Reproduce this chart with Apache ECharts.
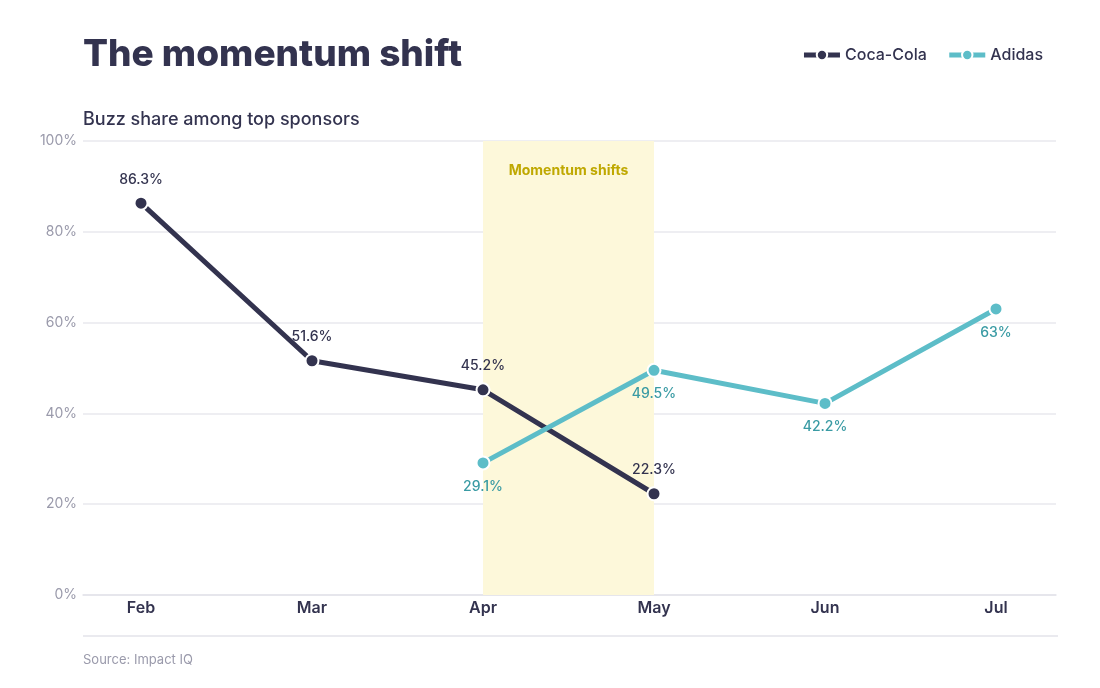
<!DOCTYPE html>
<html>
<head>
<meta charset="utf-8">
<script src="https://cdn.jsdelivr.net/npm/echarts@6/dist/echarts.min.js"></script>
<style>
  html, body { margin: 0; padding: 0; background: #fff; }
  #chart1 { width: 1100px; height: 688px; }
</style>
</head>
<body>
<div id="chart1"></div>
<script>
var months = ['Feb', 'Mar', 'Apr', 'May', 'Jun', 'Jul'];
var cocaCola = [86.3, 51.6, 45.2, 22.3, null, null];
var adidas = [null, null, 29.1, 49.5, 42.2, 63];
var yTicks = [0, 20, 40, 60, 80, 100];
var shiftRange = ['Apr', 'May'];

var navy = '#33334f';
var teal = '#5dbdc8';
var font = 'Inter, "Noto Sans", sans-serif';

var myChart = echarts.init(document.getElementById('chart1'));

var option = {
    backgroundColor: '#fff',
    textStyle: { fontFamily: font },
    title: [
        {
            text: 'The momentum shift',
            left: 78, top: 31,
            textStyle: { fontSize: 37, fontWeight: 800, color: navy, fontFamily: font }
        },
        {
            text: 'Buzz share among top sponsors',
            left: 78, top: 106,
            textStyle: { fontSize: 18, fontWeight: 500, color: navy, fontFamily: font }
        },
        {
            text: 'Source: Impact IQ',
            left: 78, top: 649,
            textStyle: { fontSize: 13, fontWeight: 400, color: '#9a9aab', fontFamily: font }
        }
    ],
    legend: {
        right: 52, top: 42,
        itemWidth: 36, itemHeight: 13, itemGap: 20,
        lineStyle: { width: 5 },
        textStyle: { fontSize: 16, color: navy, fontWeight: 500, fontFamily: font },
        data: ['Coca-Cola', 'Adidas']
    },
    grid: [
        { left: 141, right: 104, top: 141, bottom: 93 },
        { left: 83, right: 44, top: 141, bottom: 93 }
    ],
    xAxis: [
        {
            type: 'category', gridIndex: 0, data: months, boundaryGap: false,
            axisLine: { show: false }, axisTick: { show: false },
            axisLabel: { color: navy, fontSize: 16, fontWeight: 600, margin: 5 }
        },
        {
            type: 'value', gridIndex: 1, min: 0, max: 1,
            axisLine: { show: true, lineStyle: { color: '#e3e3ea', width: 1.5 } },
            axisTick: { show: false }, axisLabel: { show: false }, splitLine: { show: false }
        }
    ],
    yAxis: [
        {
            type: 'value', gridIndex: 0, min: 0, max: 100, interval: 20, show: false
        },
        {
            type: 'value', gridIndex: 1, min: yTicks[0], max: yTicks[yTicks.length - 1], interval: 20,
            axisLine: { show: false }, axisTick: { show: false },
            axisLabel: { color: '#9a9aab', fontSize: 14, margin: 6, formatter: '{value}%' },
            splitLine: { lineStyle: { color: '#e8e8ee', width: 1.5 } }
        }
    ],
    graphic: [
        {
            type: 'line', z: 5,
            shape: { x1: 83, y1: 636, x2: 1058, y2: 636 },
            style: { stroke: '#e3e3ea', lineWidth: 1.5 }
        }
    ],
    series: [
        {
            name: 'shift', type: 'line', xAxisIndex: 0, yAxisIndex: 0, z: -1,
            data: [], silent: true,
            markArea: {
                silent: true,
                itemStyle: { color: '#fdf8da' },
                label: {
                    show: true, position: 'insideTop', distance: 23,
                    color: '#bfa800', fontSize: 14, fontWeight: 700
                },
                data: [[{ name: 'Momentum shifts', xAxis: shiftRange[0] }, { xAxis: shiftRange[1] }]]
            }
        },
        {
            name: 'Coca-Cola', type: 'line', xAxisIndex: 0, yAxisIndex: 0,
            data: cocaCola,
            color: navy,
            symbol: 'circle', symbolSize: 13,
            lineStyle: { width: 5, color: navy },
            itemStyle: { color: navy, borderColor: '#fff', borderWidth: 2 },
            label: {
                show: true, position: 'top', distance: 9,
                color: navy, fontSize: 14, fontWeight: 500,
                formatter: function (p) { return p.value + '%'; }
            }
        },
        {
            name: 'Adidas', type: 'line', xAxisIndex: 0, yAxisIndex: 0,
            data: adidas,
            color: teal,
            symbol: 'circle', symbolSize: 13,
            lineStyle: { width: 5, color: teal },
            itemStyle: { color: teal, borderColor: '#fff', borderWidth: 2 },
            label: {
                show: true, position: 'bottom', distance: 9,
                color: '#3a9ba4', fontSize: 14, fontWeight: 500,
                formatter: function (p) { return p.value + '%'; }
            }
        }
    ]
};

myChart.setOption(option);
</script>
</body>
</html>
